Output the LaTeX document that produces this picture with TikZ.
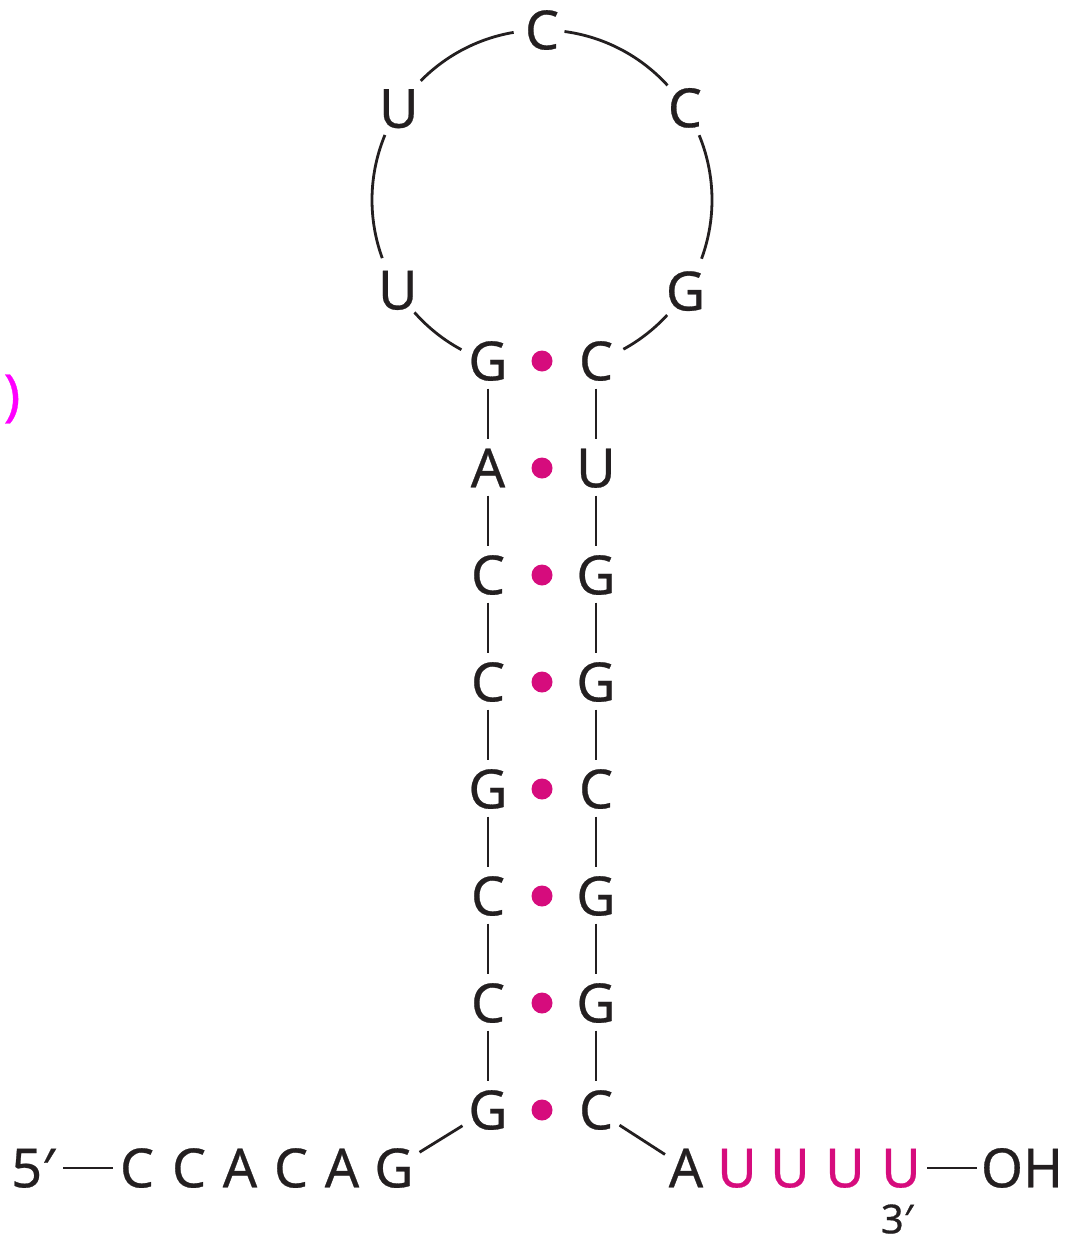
\documentclass[tikz,border=0pt]{standalone}
\usepackage{fontspec}
\setmainfont[FakeBold=0.5]{Noto Sans}
\definecolor{ink}{RGB}{35,31,32}
\definecolor{pairpink}{RGB}{214,12,125}
\definecolor{stray}{RGB}{255,0,255}
\begin{document}
\begin{tikzpicture}[x=1pt,y=-1pt,
  base/.style={font=\fontsize{54}{54}\selectfont, text=ink, inner sep=0pt,
               text height=38.6pt, text depth=0pt},
  endlabel/.style={font=\fontsize{40}{40}\selectfont, text=ink, inner sep=0pt,
               text height=28.6pt, text depth=0pt},
  tailbase/.style={base, text=pairpink},
  strand/.style={draw=ink, line width=2.8pt},
  pairdot/.style={circle, fill=pairpink, minimum size=21pt, inner sep=0pt}]
\useasboundingbox (0,0) rectangle (1070,1242);

% stray mark at the left edge
\node[font=\fontsize{56}{56}\selectfont, text=stray, inner sep=0pt] (paren) at (12,399) {)};

% ---- stem: left and right strands with base-pair dots
\foreach \l [count=\i from 0] in {G,A,C,C,G,C,C,G}
  \node[base] (L\i) at (488,{361+107*\i}) {\l};
\foreach \l [count=\i from 0] in {C,U,G,G,C,G,G,C}
  \node[base] (R\i) at (596,{361+107*\i}) {\l};
\foreach \i in {0,...,7}
  \node[pairdot] (D\i) at (542,{361+107*\i}) {};
\foreach \i [evaluate=\i as \j using int(\i+1)] in {0,...,6}{
  \draw[strand, shorten <=8pt, shorten >=10pt] (L\i) -- (L\j);
  \draw[strand, shorten <=8pt, shorten >=10pt] (R\i) -- (R\j);
}

% ---- loop: bases on a circle (centre 542,200; radius 170)
\node[base] (lpU1) at ({542+170*cos(212.6)},{200+170*sin(212.6)}) {U};
\node[base] (lpC1) at ({542+170*cos(-90)},{200+170*sin(-90)}) {C};
\node[base] (lpC2) at ({542+170*cos(-32.8)},{200+170*sin(-32.8)}) {C};
\node[base] (lpU2) at ({542+170*cos(148)},{200+170*sin(148)}) {U};
\node[base] (lpG1) at ({542+170*cos(32.4)},{200+170*sin(32.4)}) {G};

\draw[strand] plot[domain=260.4:224.5, samples=40] ({542+170*cos(\x)},{200+170*sin(\x)});
\draw[strand] plot[domain=-82.4:-42.4, samples=40] ({542+170*cos(\x)},{200+170*sin(\x)});
\draw[strand] plot[domain=202.5:160, samples=40] ({542+170*cos(\x)},{200+170*sin(\x)});
\draw[strand] plot[domain=-22.4:20.2, samples=40] ({542+170*cos(\x)},{200+170*sin(\x)});
\draw[strand] plot[domain=138.6:118.3, samples=30] ({542+170*cos(\x)},{200+170*sin(\x)});
\draw[strand] plot[domain=42.6:61.4, samples=30] ({542+170*cos(\x)},{200+170*sin(\x)});

% ---- 5' tail
\node[base] (p5) at (33,1168) {5′};
\node[base] (b1) at (137,1168) {C};
\node[base] (b2) at (189,1168) {C};
\node[base] (b3) at (240,1168) {A};
\node[base] (b4) at (291,1168) {C};
\node[base] (b5) at (342,1168) {A};
\node[base] (b6) at (394,1168) {G};
\draw[strand, shorten <=30pt, shorten >=24pt] (p5.center) -- (b1.center);
\draw[strand, shorten <=30pt, shorten >=30pt] (b6.center) -- (L7.center);

% ---- 3' tail with the U run
\node[base] (a1) at (686,1168) {A};
\node[tailbase] (u1) at (737,1168) {U};
\node[tailbase] (u2) at (790,1168) {U};
\node[tailbase] (u3) at (845,1168) {U};
\node[tailbase] (u4) at (901,1168) {U};
\node[base] (oh) at (1022,1168) {OH};
\node[endlabel] (p3) at (897,1219) {3′};
\draw[strand, shorten <=28pt, shorten >=25pt] (R7.center) -- (a1.center);
\draw[strand, shorten <=26pt, shorten >=45pt] (u4.center) -- (oh.center);
\end{tikzpicture}
\end{document}
